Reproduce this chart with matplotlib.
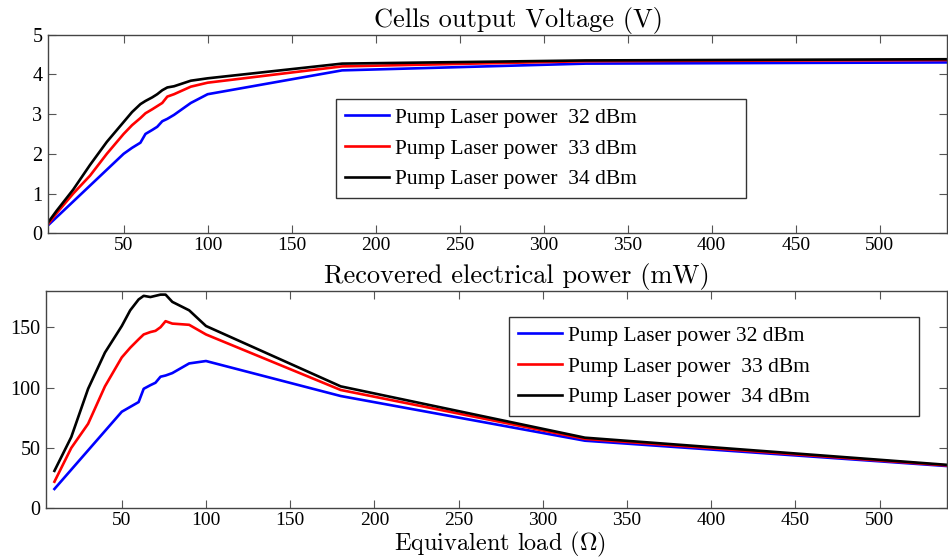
import matplotlib
matplotlib.use("Agg")
import matplotlib.pyplot as plt

# ---- data ----
load_v = [5, 10, 20, 30, 40, 50, 55, 60, 63, 67, 70, 73, 76, 80, 90, 100, 180, 325, 540]
volt_32 = [0.20, 0.40, 0.80, 1.20, 1.60, 2.00, 2.15, 2.28, 2.50, 2.60, 2.68, 2.82, 2.88, 2.98, 3.28, 3.50, 4.10, 4.27, 4.30]
volt_33 = [0.23, 0.50, 1.00, 1.45, 2.00, 2.50, 2.72, 2.90, 3.02, 3.12, 3.20, 3.28, 3.44, 3.50, 3.69, 3.79, 4.20, 4.33, 4.36]
volt_34 = [0.27, 0.56, 1.10, 1.72, 2.30, 2.80, 3.05, 3.25, 3.33, 3.42, 3.50, 3.60, 3.67, 3.70, 3.84, 3.90, 4.27, 4.35, 4.38]

load_p = [10, 20, 30, 40, 50, 55, 60, 63, 67, 70, 73, 76, 80, 90, 100, 180, 325, 540]
pow_32 = [16, 32, 48, 64, 80, 84, 88, 99, 102, 104, 109, 110, 112, 120, 122, 93, 56, 35]
pow_33 = [22, 50, 70, 101, 125, 133, 140, 144, 146, 147, 150, 155, 153, 152, 144, 98, 57.5, 35.5]
pow_34 = [31, 59, 99, 129, 151, 164, 173, 176, 175, 176, 177, 177, 171, 164, 151, 101, 58.5, 36]

labels_top = ["Pump Laser power  32 dBm", "Pump Laser power  33 dBm", "Pump Laser power  34 dBm"]
labels_bot = ["Pump Laser power 32 dBm", "Pump Laser power  33 dBm", "Pump Laser power  34 dBm"]
colors = ["#0000ff", "#ff0000", "#000000"]

title_top = "Cells output Voltage (V)"
title_bot = "Recovered electrical power (mW)"
xlabel = r"Equivalent load ($\Omega$)"

plt.rcParams["mathtext.fontset"] = "cm"
plt.rcParams["font.family"] = ["Liberation Serif", "DejaVu Serif"]

W, H = 948, 557
fig = plt.figure(figsize=(W / 100, H / 100), dpi=100)

def px_axes(l, t, r, b):
    return fig.add_axes([l / W, 1 - b / H, (r - l) / W, (b - t) / H])

ax1 = px_axes(48, 34.6, 947, 233.3)
ax2 = px_axes(46, 291, 947, 508.3)

for ax in (ax1, ax2):
    ax.set_xlim(5, 540)
    ax.set_xticks([50, 100, 150, 200, 250, 300, 350, 400, 450, 500])
    ax.tick_params(direction="in", top=True, right=True, length=6, width=0.8,
                   color="#555555", labelsize=14.5, pad=4)
    ax.tick_params(axis="x", pad=2.5, labelsize=14)
    for s in ax.spines.values():
        s.set_color("#444444")
        s.set_linewidth(1.0)

for y, c, lab in zip([volt_32, volt_33, volt_34], colors, labels_top):
    ax1.plot(load_v, y, color=c, lw=1.9, label=lab)
ax1.set_ylim(0, 5)
ax1.set_yticks([0, 1, 2, 3, 4, 5])

for y, c, lab in zip([pow_32, pow_33, pow_34], colors, labels_bot):
    ax2.plot(load_p, y, color=c, lw=1.9, label=lab)
ax2.set_ylim(0, 180)
ax2.set_yticks([0, 50, 100, 150])

def legend(ax, l, t, r, b):
    fs = 15.5
    leg = ax.legend(loc="upper left", mode="expand",
                    bbox_to_anchor=(l / W, 1 - b / H, (r - l) / W, (b - t) / H),
                    bbox_transform=fig.transFigure, fontsize=fs, fancybox=False,
                    framealpha=1, edgecolor="#333333", handlelength=2.05,
                    handletextpad=0.3, labelspacing=0.5, borderaxespad=0,
                    borderpad=0.4)
    leg.get_frame().set_linewidth(1.0)
    return leg

legend(ax1, 336, 99, 746, 195)
legend(ax2, 509, 317, 919, 412)

tkw = dict(family=["cmr10", "DejaVu Serif"], fontsize=19, ha="center", va="baseline")
fig.text(518 / W, 1 - 27 / H, title_top, **tkw)
fig.text(517 / W, 1 - 283 / H, title_bot, **tkw)
tkw["fontsize"] = 17.5
fig.text(500 / W, 1 - 550 / H, xlabel, **tkw)

fig.savefig("out.png", dpi=100)
